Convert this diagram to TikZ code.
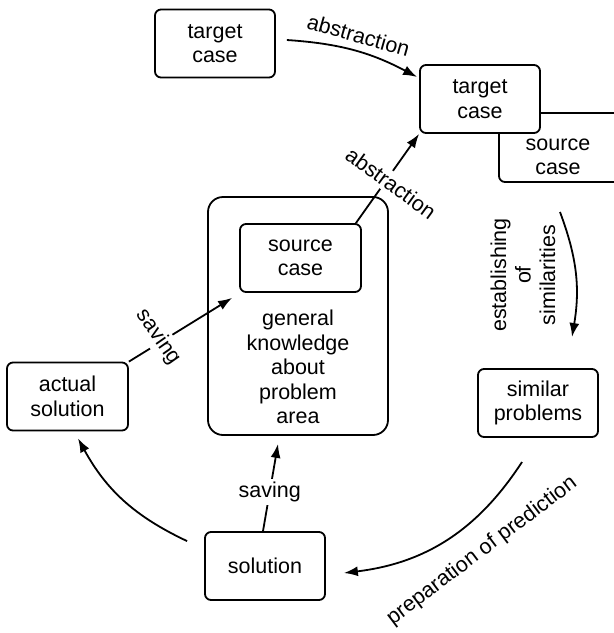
\documentclass[tikz,border=0pt]{standalone}
\usepackage{fontspec}
\setmainfont{Liberation Sans}
\usetikzlibrary{arrows.meta}
\newcommand\boxfont{\fontsize{21.5}{24.5}\selectfont}
\begin{document}
\begin{tikzpicture}[x=1pt,y=-1pt,
  box/.style={draw, line width=1.8pt, rounded corners=6pt, align=center, inner sep=0pt,
    minimum width=120pt, minimum height=68pt, font=\boxfont, fill=white},
  lab/.style={font=\boxfont, inner sep=2pt, align=center},
  cut/.style={lab, fill=white, inner sep=3pt},
  arr/.style={line width=1.8pt, -{Latex[length=14pt,width=10pt]}}]
\useasboundingbox (0,0) rectangle (614,633);
% boxes
\node[box] (t1) at (215,43.5) {target\\case};
\begin{scope}
  \clip (0,0) rectangle (614,633);
  \draw[line width=1.8pt, rounded corners=6pt] (499,113) rectangle (640,182);
\end{scope}
\node[box] (t2) at (480,99) {target\\case};
\node[lab] (s2) at (558,157) {source\\case};
\node[box, minimum width=180pt, minimum height=238pt, rounded corners=15pt] (gen) at (298,316) {};
\node[lab] (gentext) at (298,367) {general\\knowledge\\about\\problem\\area};
\node[box, minimum width=121pt] (src) at (300.5,258) {source\\case};
\node[box, minimum width=121pt] (act) at (67.5,396.5) {actual\\solution};
\node[box] (sim) at (538,403) {similar\\problems};
\node[box] (sol) at (265,566) {solution};
\node[lab, rotate=90] (est) at (523,275) {establishing\\of\\similarities};
% free ends
\coordinate (e1) at (560,212);
\coordinate (e2) at (572,337);
\coordinate (p1) at (522,462);
% connectors
\draw[arr] ([shift={(11,-3.5)}]t1.east) to[bend left=12]
  node[midway, above=5pt, sloped, lab] {abstraction} ([shift={(-2,-22)}]t2.west);
\draw[arr] ([xshift=-6pt]src.north east) -- (t2.south west);
\node[cut, rotate=-36] (labs2) at (391,183) {abstraction};
\draw[arr] (act.north east) -- ([shift={(-7,5)}]src.south west);
\node[cut, rotate=-55] (lsav1) at (158,337) {saving};
\draw[arr] ([xshift=-2pt]sol.north) -- ([shift={(-20,8)}]gen.south)
  node[pos=0.45, cut] {saving};
\draw[arr] ([shift={(-17,10)}]sol.north west) to[bend left=18] ([shift={(10.5,7)}]act.south);
\draw[arr] (e1) to[bend left=15] (e2);
\draw[arr] (p1) to[bend left=25] ([shift={(18,7)}]sol.east);
\node[lab, rotate=37] (prep) at (482,551) {preparation of prediction};
\end{tikzpicture}
\end{document}
